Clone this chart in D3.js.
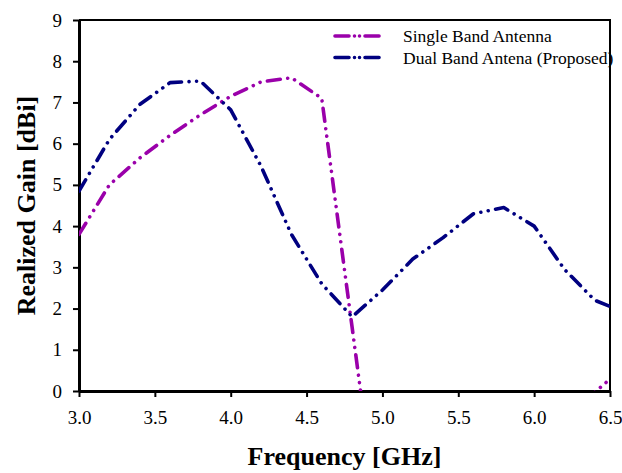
<!DOCTYPE html>
<html>
<head>
<script src="https://d3js.org/d3.v7.min.js"></script>
<style>
  body { margin: 0; background: #fff; }
  text { font-family: "Liberation Serif", "Times New Roman", serif; }
</style>
</head>
<body>
<div id="chart"></div>
<script>
// frequency points (GHz)
const freq = [3.0, 3.2, 3.4, 3.6, 3.8, 4.0, 4.2, 4.4, 4.6, 4.8, 5.0, 5.2, 5.4, 5.6, 5.8, 6.0, 6.2, 6.4, 6.5];
// realized gain (dBi); values below 0 are clipped off the plot
const singleBand = [3.8, 5.0, 5.65, 6.2, 6.7, 7.15, 7.5, 7.6, 7.1, 1.55, -4.0, -7, -9, -10, -9, -6, -3, -0.03, 0.29];
const dualBand = [4.85, 6.1, 6.95, 7.48, 7.52, 6.82, 5.45, 3.8, 2.6, 1.8, 2.45, 3.2, 3.72, 4.3, 4.45, 4.0, 2.95, 2.2, 2.05];
const xTicks = [3.0, 3.5, 4.0, 4.5, 5.0, 5.5, 6.0, 6.5];
const yTicks = [0, 1, 2, 3, 4, 5, 6, 7, 8, 9];
const seriesNames = ["Single Band Antenna", "Dual Band Antena (Proposed)"];
const seriesColors = ["#9a00aa", "#000080"];

const W = 622, H = 473;
const margin = { top: 20, right: 12, bottom: 82, left: 79 };
const width = W - margin.left - margin.right;
const height = H - margin.top - margin.bottom;

const svg = d3.select("#chart").append("svg")
  .attr("width", W)
  .attr("height", H);

const chart = svg.append("g")
  .attr("transform", `translate(${margin.left},${margin.top})`);

const x = d3.scaleLinear().domain([3.0, 6.5]).range([0, width]);
const y = d3.scaleLinear().domain([0, 9]).range([height, 0]);

svg.append("defs").append("clipPath").attr("id", "clip")
  .append("rect").attr("x", 0).attr("y", -5).attr("width", width).attr("height", height + 5);

// top & right frame
chart.append("path")
  .attr("d", `M0,0H${width}V${height}`)
  .attr("fill", "none")
  .attr("stroke", "#000")
  .attr("stroke-width", 2);

const xAxis = chart.append("g")
  .attr("transform", `translate(0,${height})`)
  .call(d3.axisBottom(x).tickValues(xTicks).tickFormat(d3.format(".1f"))
    .tickSize(6).tickSizeOuter(0).tickPadding(14));

const yAxis = chart.append("g")
  .call(d3.axisLeft(y).tickValues(yTicks).tickFormat(d3.format("d"))
    .tickSize(6).tickSizeOuter(0).tickPadding(11));

[xAxis, yAxis].forEach(a => {
  a.select(".domain").attr("stroke-width", 3);
  a.selectAll(".tick line").attr("stroke-width", 2);
  a.selectAll(".tick text")
    .style("font-family", "'Liberation Serif', 'Times New Roman', serif")
    .style("font-size", "19px")
    .attr("fill", "#000");
});

const dash = "13,7.5,0.01,7.5,0.01,7.5";
const line = d3.line()
  .x((d, i) => x(freq[i]))
  .y(d => y(d));

const plot = chart.append("g").attr("clip-path", "url(#clip)");
[singleBand, dualBand].forEach((s, k) => {
  plot.append("path")
    .datum(s)
    .attr("d", line)
    .attr("fill", "none")
    .attr("stroke", seriesColors[k])
    .attr("stroke-width", 3.6)
    .attr("stroke-linecap", "round")
    .attr("stroke-linejoin", "round")
    .attr("stroke-dasharray", dash);
});

// legend
const legend = svg.append("g");
seriesNames.forEach((name, k) => {
  const ly = 36 + k * 21.5;
  legend.append("line")
    .attr("x1", 335).attr("x2", 384)
    .attr("y1", ly).attr("y2", ly)
    .attr("stroke", seriesColors[k])
    .attr("stroke-width", 3.6)
    .attr("stroke-linecap", "round")
    .attr("stroke-dasharray", "14,5.5,0.01,5,0.01,5.5");
  legend.append("text")
    .attr("x", 403).attr("y", ly + 6)
    .style("font-size", "17.5px")
    .text(name);
});

// axis titles
svg.append("text")
  .attr("x", margin.left + width / 2)
  .attr("y", 465)
  .attr("text-anchor", "middle")
  .style("font-size", "26px")
  .style("font-weight", "bold")
  .text("Frequency [GHz]");

svg.append("text")
  .attr("transform", `translate(35,${margin.top + height / 2}) rotate(-90)`)
  .attr("text-anchor", "middle")
  .style("font-size", "26px")
  .style("font-weight", "bold")
  .text("Realized Gain [dBi]");
</script>
</body>
</html>
